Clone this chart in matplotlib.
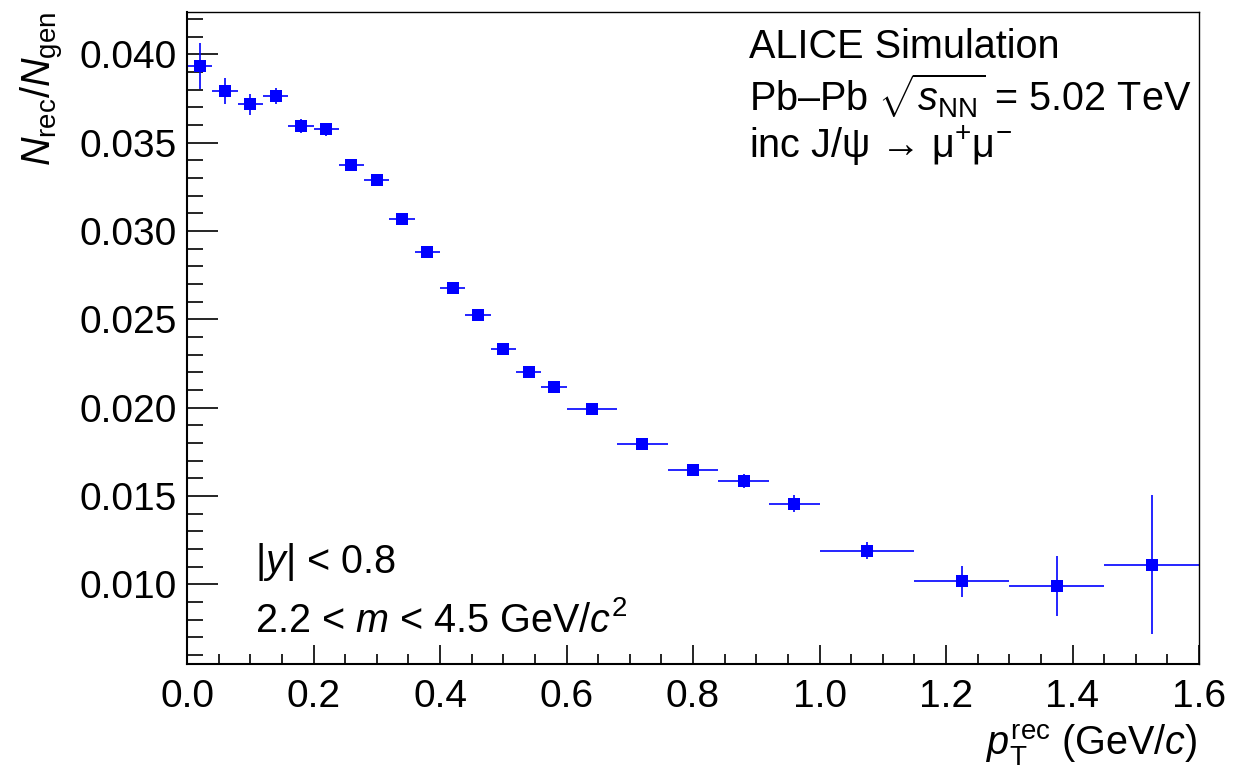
import numpy as np
import matplotlib
matplotlib.use('Agg')
import matplotlib.pyplot as plt
from matplotlib.ticker import MultipleLocator, FormatStrFormatter

# Data ########################################################

# pT bin edges (GeV/c)
bin_edges = [0.00, 0.04, 0.08, 0.12, 0.16, 0.20, 0.24, 0.28, 0.32, 0.36,
             0.40, 0.44, 0.48, 0.52, 0.56, 0.60, 0.68, 0.76, 0.84, 0.92,
             1.00, 1.15, 1.30, 1.45, 1.60]

# N_rec / N_gen in each bin
ratio = [0.03934, 0.03793, 0.03717, 0.03763, 0.03595, 0.03576, 0.03375,
         0.03292, 0.03071, 0.02879, 0.02680, 0.02527, 0.02335, 0.02201,
         0.02120, 0.01996, 0.01793, 0.01646, 0.01588, 0.01458, 0.01192,
         0.01017, 0.00992, 0.01113]

ratio_err = [0.00130, 0.00073, 0.00060, 0.00045, 0.00040, 0.00038, 0.00035,
             0.00030, 0.00030, 0.00028, 0.00028, 0.00027, 0.00026, 0.00026,
             0.00026, 0.00025, 0.00025, 0.00028, 0.00040, 0.00050, 0.00050,
             0.00086, 0.00168, 0.00392]

# Style ########################################################

plt.rcParams['font.family'] = ['Liberation Sans', 'DejaVu Sans']
plt.rcParams['mathtext.fontset'] = 'custom'
plt.rcParams['mathtext.rm'] = 'Liberation Sans'
plt.rcParams['mathtext.it'] = 'Liberation Sans:italic'
plt.rcParams['mathtext.bf'] = 'Liberation Sans:bold'
plt.rcParams['mathtext.sf'] = 'Liberation Sans'

FS = 28.5
TICK_FS = 28
W, H = 1234, 773

edges = np.array(bin_edges)
x = 0.5 * (edges[1:] + edges[:-1])
xerr = 0.5 * (edges[1:] - edges[:-1])

fig = plt.figure(figsize=(W / 100, H / 100), dpi=100)
ax = fig.add_axes([187 / W, 1 - 664 / H, (1199 - 187) / W, (664 - 12) / H])

ax.errorbar(x, ratio, xerr=xerr, yerr=ratio_err, fmt='s', color='#0000ff',
            ms=8, elinewidth=1.2, capsize=2.5, capthick=1.2, mew=0)

ax.set_xlim(0, 1.6)
ax.set_ylim(0.0055, 0.0424)

ax.xaxis.set_major_locator(MultipleLocator(0.2))
ax.xaxis.set_minor_locator(MultipleLocator(0.05))
ax.yaxis.set_major_locator(MultipleLocator(0.005))
ax.yaxis.set_minor_locator(MultipleLocator(0.001))
ax.xaxis.set_major_formatter(FormatStrFormatter('%.1f'))
ax.yaxis.set_major_formatter(FormatStrFormatter('%.3f'))

ax.tick_params(axis='both', which='both', direction='in', width=1.2,
               labelsize=TICK_FS, top=False, right=False)
ax.tick_params(axis='x', which='major', length=13.7, pad=11)
ax.tick_params(axis='x', which='minor', length=7.2)
ax.tick_params(axis='y', which='major', length=22.3, pad=7.5)
ax.tick_params(axis='y', which='minor', length=11.3)

for side in ['left', 'bottom']:
    ax.spines[side].set_linewidth(1.5)
for side in ['top', 'right']:
    ax.spines[side].set_linewidth(1.0)

# Labels ########################################################

fig.text(1198 / W, 1 - 755 / H, r'$p_{\rm T}^{\rm rec}$ (GeV/$c$)',
         fontsize=FS, ha='right', va='baseline')
fig.text(42 / W, 1 - 12 / H, r'$N_{\rm rec}/N_{\rm gen}$',
         fontsize=FS, rotation=90, ha='center', va='top')

fig.text(749 / W, 1 - 58 / H, 'ALICE Simulation',
         fontsize=FS, ha='left', va='baseline')
fig.text(749 / W, 1 - 111 / H, r'Pb–Pb $\sqrt{s_{\rm NN}}$ = 5.02 TeV',
         fontsize=FS, ha='left', va='baseline')
fig.text(749 / W, 1 - 158 / H, r'inc J/ψ → μ$^{+}$μ$^{-}$',
         fontsize=FS, ha='left', va='baseline')

fig.text(255 / W, 1 - 573 / H, r'|$y$| < 0.8',
         fontsize=FS, ha='left', va='baseline')
fig.text(255 / W, 1 - 632 / H, r'2.2 < $m$ < 4.5 GeV/$c^{2}$',
         fontsize=FS, ha='left', va='baseline')

fig.savefig('out.png', dpi=100)
